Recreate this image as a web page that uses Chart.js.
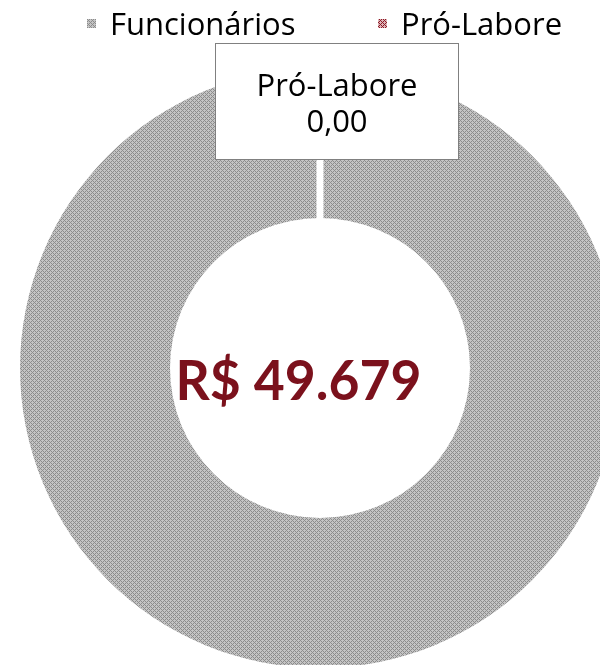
<!DOCTYPE html>
<html><head><meta charset="utf-8">
<script src="https://cdn.jsdelivr.net/npm/chart.js@4"></script>
<style>html,body{margin:0;padding:0;background:#fff;overflow:hidden;width:600px;height:665px}#c{position:absolute;left:0;top:0}</style>
</head><body>
<canvas id="c" width="640" height="668"></canvas>
<script>
const categories = ['Funcionários', 'Pró-Labore'];
const values = [49679, 0];
const valueLabels = ['49.679', '0,00'];
const centerLabel = 'R$ 49.679';

function makePattern(light, dark) {
  const c = document.createElement('canvas');
  c.width = 4; c.height = 4;
  const g = c.getContext('2d');
  g.fillStyle = light; g.fillRect(0, 0, 4, 4);
  g.fillStyle = dark;
  for (let x = 0; x < 4; x++) for (let y = 0; y < 4; y++) {
    if ((x + y) % 4 === 0 || ((x - y) % 4 + 4) % 4 === 0) g.fillRect(x, y, 1, 1);
  }
  return document.getElementById('c').getContext('2d').createPattern(c, 'repeat');
}
const grayPat = makePattern('#c4c4c4', '#8c8c8c');
const redPat = makePattern('#dcb4b8', '#8e1a25');

const FONT = '"Open Sans", sans-serif';

const overlay = {
  id: 'overlay',
  afterDatasetsDraw(chart) {
    const ctx = chart.ctx;
    const meta = chart.getDatasetMeta(0);
    const arc = meta.data[1];
    const p = arc.getProps(['x', 'y', 'startAngle', 'innerRadius', 'outerRadius'], true);
    const a = p.startAngle;
    ctx.save();
    // gap line at zero slice
    ctx.strokeStyle = '#ffffff';
    ctx.lineWidth = 7;
    ctx.beginPath();
    ctx.moveTo(p.x + Math.cos(a) * (p.innerRadius - 1), p.y + Math.sin(a) * (p.innerRadius - 1));
    ctx.lineTo(p.x + Math.cos(a) * (p.outerRadius + 2), p.y + Math.sin(a) * (p.outerRadius + 2));
    ctx.stroke();
    // label box for zero slice
    const ax = p.x + Math.cos(a) * p.outerRadius;
    const ay = p.y + Math.sin(a) * p.outerRadius;
    const bw = 243, bh = 116;
    const bl = Math.round(ax - 105) + 0.5, bt = Math.round(ay - 25) + 0.5;
    ctx.fillStyle = '#ffffff';
    ctx.fillRect(bl, bt, bw, bh);
    ctx.strokeStyle = '#808080';
    ctx.lineWidth = 1;
    ctx.strokeRect(bl, bt, bw, bh);
    ctx.fillStyle = '#000000';
    ctx.font = '31px ' + FONT;
    ctx.textAlign = 'center';
    ctx.textBaseline = 'alphabetic';
    ctx.fillText(categories[1], bl + bw / 2, bt + 52);
    ctx.fillText(valueLabels[1], bl + bw / 2, bt + 88);
    // center total
    ctx.fillStyle = '#7b111c';
    ctx.font = 'bold 55px Lato, sans-serif';
    ctx.fillText(centerLabel, p.x - 21.5, p.y + 32, 246);
    // legend
    ctx.font = '31px ' + FONT;
    ctx.textAlign = 'left';
    const pats = chart.data.datasets[0].backgroundColor;
    const xs = [87, 378];
    categories.forEach((lab, i) => {
      ctx.fillStyle = pats[i];
      ctx.fillRect(xs[i], 19, 9, 9);
      ctx.fillStyle = '#000000';
      ctx.fillText(lab, xs[i] + 23, 35);
    });
    ctx.restore();
  }
};

new Chart(document.getElementById('c'), {
  type: 'doughnut',
  data: {
    labels: categories,
    datasets: [{ data: values, backgroundColor: [grayPat, redPat], borderWidth: 0 }]
  },
  options: {
    responsive: false,
    animation: false,
    cutout: '50%',
    layout: { padding: { top: 68, bottom: 0, left: 0, right: 0 } },
    plugins: { legend: { display: false }, tooltip: { enabled: false } }
  },
  plugins: [overlay]
});
</script>
</body></html>
